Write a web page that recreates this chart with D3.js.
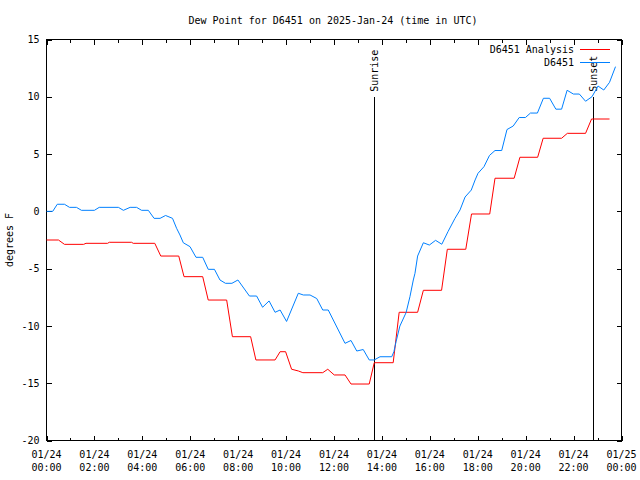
<!DOCTYPE html>
<html>
<head>
<meta charset="utf-8">
<script src="https://cdn.jsdelivr.net/npm/d3@7"></script>
<style>
  html, body { margin: 0; padding: 0; background: #fff; }
  svg text { font-family: "DejaVu Sans Mono", "Liberation Mono", monospace; font-size: 10px; fill: #000; }
</style>
</head>
<body>
<svg id="chart" width="640" height="480"></svg>
<script>
// ---- data (hours since 2025-01-24 00:00 UTC, degrees F) ----
const titleText = "Dew Point for D6451 on 2025-Jan-24 (time in UTC)";
const yLabelText = "degrees F";
const seriesNames = ["D6451 Analysis", "D6451"];
const seriesColors = ["#ff0000", "#0080ff"];

const redTimes = [0,0.5,0.75,1.55,1.65,2.55,2.62,3.55,3.62,4.52,4.77,5.52,5.74,6.52,6.75,7.52,7.76,8.52,8.74,9.54,9.75,9.98,10.23,10.51,10.7,11.53,11.74,12.01,12.46,12.71,13.47,13.68,14.47,14.72,15.49,15.73,16.49,16.73,17.5,17.74,18.5,18.72,19.52,19.76,20.5,20.73,21.5,21.74,22.5,22.75,23.5];
const redValues = [-2.5,-2.5,-2.88,-2.88,-2.79,-2.79,-2.7,-2.7,-2.79,-2.79,-3.9,-3.9,-5.7,-5.7,-7.74,-7.74,-10.94,-10.94,-12.97,-12.97,-12.25,-12.25,-13.78,-13.93,-14.08,-14.08,-13.78,-14.28,-14.28,-15.07,-15.07,-13.21,-13.21,-8.81,-8.81,-6.89,-6.89,-3.31,-3.31,-0.23,-0.23,2.89,2.89,4.72,4.72,6.38,6.38,6.81,6.81,8.06,8.06];

const blueTimes = [0,0.26,0.45,0.75,0.96,1.25,1.46,2.0,2.2,3.0,3.21,3.49,3.76,3.97,4.25,4.49,4.74,4.97,5.26,5.43,5.57,5.71,5.99,6.24,6.52,6.75,7.01,7.24,7.47,7.74,7.99,8.47,8.77,9.02,9.29,9.54,9.75,10.02,10.51,10.72,11.0,11.28,11.53,11.76,12.46,12.71,12.95,13.22,13.47,13.68,13.92,14.41,14.5,14.59,14.75,15.01,15.17,15.31,15.38,15.49,15.73,15.98,16.24,16.5,16.76,17.05,17.26,17.47,17.73,17.89,18.01,18.26,18.49,18.72,19.0,19.22,19.48,19.73,19.99,20.2,20.49,20.74,21.0,21.26,21.5,21.73,21.99,22.24,22.5,22.77,23.02,23.26,23.5,23.75];
const blueValues = [0,0,0.62,0.62,0.35,0.35,0.09,0.09,0.35,0.35,0.09,0.35,0.35,0.09,0.09,-0.61,-0.61,-0.36,-0.61,-1.48,-2.06,-2.74,-3.08,-4.01,-4.01,-5.06,-5.06,-5.99,-6.28,-6.28,-5.99,-7.39,-7.39,-8.37,-7.82,-8.81,-8.61,-9.61,-7.15,-7.3,-7.3,-7.61,-8.61,-8.61,-11.52,-11.27,-12.19,-12.06,-12.97,-12.97,-12.69,-12.69,-12.25,-11.38,-10.01,-8.83,-7.45,-5.99,-5.41,-3.9,-2.74,-2.94,-2.53,-2.87,-1.76,-0.61,0.12,1.25,1.86,2.74,3.32,3.9,4.88,5.31,5.31,7.14,7.45,8.19,8.19,8.58,8.58,9.87,9.87,8.92,8.92,10.57,10.24,10.24,9.61,10.01,10.94,10.59,11.26,12.63];

const xMajorTicks = [0,2,4,6,8,10,12,14,16,18,20,22,24];
const xMinorTicks = [1,3,5,7,9,11,13,15,17,19,21,23];
const xTickDates = ["01/24","01/24","01/24","01/24","01/24","01/24","01/24","01/24","01/24","01/24","01/24","01/24","01/25"];
const xTickTimes = ["00:00","02:00","04:00","06:00","08:00","10:00","12:00","14:00","16:00","18:00","20:00","22:00","00:00"];
const yTicks = [-20,-15,-10,-5,0,5,10,15];

const sunEvents = [{name: "Sunrise", t: 13.68}, {name: "Sunset", t: 22.82}];
const sunLineTop = 10;

// ---- layout ----
const svg = d3.select("#chart");
const x = d3.scaleLinear().domain([0, 24]).range([46.5, 621.5]);
const y = d3.scaleLinear().domain([-20, 15]).range([440.5, 39.5]);

// title
svg.append("text").attr("x", 333).attr("y", 24).attr("text-anchor", "middle").text(titleText);
// y label
svg.append("text").attr("transform", "translate(13,240) rotate(-90)")
  .attr("text-anchor", "middle").text(yLabelText);

// axes
const gB = svg.append("g").attr("transform", `translate(0,${y(-20)})`)
  .call(d3.axisBottom(x).tickValues(xMajorTicks).tickSize(-5).tickFormat(""));
const gBm = svg.append("g").attr("transform", `translate(0,${y(-20)})`)
  .call(d3.axisBottom(x).tickValues(xMinorTicks).tickSize(-3).tickFormat(""));
const gT = svg.append("g").attr("transform", `translate(0,${y(15)})`)
  .call(d3.axisTop(x).tickValues(xMajorTicks).tickSize(-5).tickFormat(""));
const gTm = svg.append("g").attr("transform", `translate(0,${y(15)})`)
  .call(d3.axisTop(x).tickValues(xMinorTicks).tickSize(-3).tickFormat(""));
const gL = svg.append("g").attr("transform", `translate(${x(0)},0)`)
  .call(d3.axisLeft(y).tickValues(yTicks).tickSize(-5).tickPadding(7).tickFormat(d => d));
const gR = svg.append("g").attr("transform", `translate(${x(24)},0)`)
  .call(d3.axisRight(y).tickValues(yTicks).tickSize(-5).tickFormat(""));

[gB, gBm, gT, gTm, gL, gR].forEach(g => {
  g.select(".domain").remove();
  g.selectAll("line").attr("stroke", "#000").attr("shape-rendering", "crispEdges");
});
gL.selectAll("text").attr("font-family", "DejaVu Sans Mono").attr("font-size", "10px").attr("fill", "#000");

// x tick labels (two lines)
const xl = svg.append("g");
xMajorTicks.forEach((t, i) => {
  const tx = xl.append("text").attr("x", x(t)).attr("text-anchor", "middle");
  tx.append("tspan").attr("x", x(t)).attr("y", 458).text(xTickDates[i]);
  tx.append("tspan").attr("x", x(t)).attr("y", 471).text(xTickTimes[i]);
});

// border
svg.append("rect").attr("x", x(0)).attr("y", y(15))
  .attr("width", x(24) - x(0)).attr("height", y(-20) - y(15))
  .attr("fill", "none").attr("stroke", "#000").attr("shape-rendering", "crispEdges");

// sunrise / sunset
sunEvents.forEach(ev => {
  svg.append("line").attr("x1", x(ev.t)).attr("x2", x(ev.t))
    .attr("y1", y(sunLineTop)).attr("y2", y(-20))
    .attr("stroke", "#000").attr("shape-rendering", "crispEdges");
  svg.append("text")
    .attr("transform", `translate(${x(ev.t) + 0.5},${y(sunLineTop) - 5}) rotate(-90)`)
    .attr("text-anchor", "start").attr("dominant-baseline", "middle").text(ev.name);
});

// series
const line = d3.line().x(d => x(d[0])).y(d => y(d[1]));
const redData = redTimes.map((t, i) => [t, redValues[i]]);
const blueData = blueTimes.map((t, i) => [t, blueValues[i]]);
svg.append("path").datum(redData).attr("d", line)
  .attr("fill", "none").attr("stroke", seriesColors[0]).attr("stroke-width", 1);
svg.append("path").datum(blueData).attr("d", line)
  .attr("fill", "none").attr("stroke", seriesColors[1]).attr("stroke-width", 1);

// legend
seriesNames.forEach((name, i) => {
  const ly = 49.5 + i * 13;
  svg.append("text").attr("x", 574).attr("y", ly).attr("text-anchor", "end")
    .attr("dominant-baseline", "middle").text(name);
  svg.append("line").attr("x1", 580).attr("x2", 610).attr("y1", ly).attr("y2", ly)
    .attr("stroke", seriesColors[i]).attr("shape-rendering", "crispEdges");
});
</script>
</body>
</html>
